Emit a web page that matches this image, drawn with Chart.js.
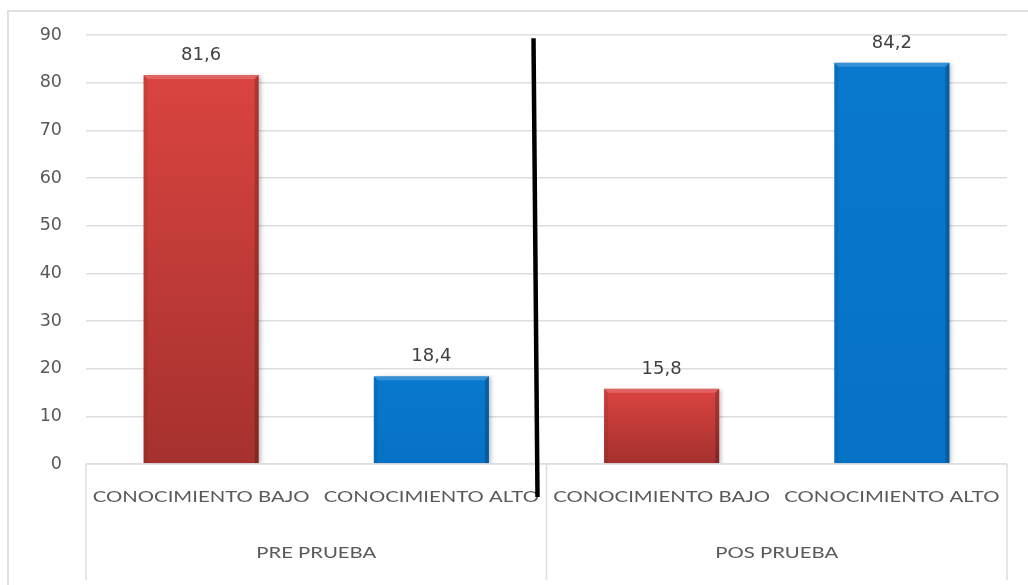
<!DOCTYPE html>
<html>
<head>
<meta charset="utf-8">
<script src="https://cdn.jsdelivr.net/npm/chart.js@4/dist/chart.umd.min.js"></script>
<style>
  html, body { margin: 0; padding: 0; background: #ffffff; }
  #wrap { width: 1028px; height: 585px; position: relative; }
</style>
</head>
<body>
<div id="wrap"><canvas id="chart" width="1028" height="585"></canvas></div>
<script>
// Knowledge level before and after the test
const categories = ['CONOCIMIENTO BAJO', 'CONOCIMIENTO ALTO', 'CONOCIMIENTO BAJO', 'CONOCIMIENTO ALTO'];
const groups = ['PRE PRUEBA', 'POS PRUEBA'];
const values = [81.6, 18.4, 15.8, 84.2];
const yMin = 0;
const yMax = 90;
const yStep = 10;

const GRID = '#dedede';
const TEXT = '#595959';
const LABEL_FONT = 'Lato, "Open Sans", sans-serif';
const NUM_FONT = '"DejaVu Sans", Verdana, sans-serif';
const STRETCH = 1.27;

const palette = {
  BAJO: { top: '#da4440', bottom: '#a5312e' },
  ALTO: { top: '#0979cd', bottom: '#0672c5' }
};
const kindOf = i => (categories[i].indexOf('BAJO') >= 0 ? 'BAJO' : 'ALTO');
const fmt = v => v.toFixed(1).replace('.', ',');

function stretchedText(ctx, text, cx, cy, font, color) {
  ctx.save();
  ctx.font = font;
  ctx.fillStyle = color;
  ctx.textAlign = 'center';
  ctx.textBaseline = 'middle';
  ctx.translate(cx, cy);
  ctx.scale(STRETCH, 1);
  ctx.fillText(text, 0, 0);
  ctx.restore();
}

// frame, category boxes, bevels, value labels and the divider line
const decorations = {
  id: 'decorations',
  beforeDraw(chart) {
    const ctx = chart.ctx;
    ctx.save();
    ctx.fillStyle = '#ffffff';
    ctx.fillRect(0, 0, chart.width, chart.height);
    ctx.strokeStyle = '#e0e0e0';
    ctx.lineWidth = 2;
    ctx.strokeRect(8, 11, chart.width + 40, chart.height + 40);
    ctx.restore();
  },
  beforeDatasetsDraw(chart) {
    const ctx = chart.ctx;
    ctx.save();
    ctx.shadowColor = 'rgba(0,0,0,0.25)';
    ctx.shadowBlur = 4;
    ctx.shadowOffsetX = 2;
    ctx.shadowOffsetY = 1;
  },
  afterDatasetsDraw(chart) {
    const ctx = chart.ctx;
    ctx.restore();
    const meta = chart.getDatasetMeta(0);
    const area = chart.chartArea;
    const xs = chart.scales.x;
    const ys = chart.scales.y;

    // bevel on each bar
    meta.data.forEach((bar) => {
      const l = bar.x - bar.width / 2, r = bar.x + bar.width / 2;
      const t = bar.y, b = bar.base;
      const e = 4;
      ctx.save();
      ctx.fillStyle = 'rgba(255,255,255,0.18)';
      ctx.beginPath();
      ctx.moveTo(l, t); ctx.lineTo(r, t); ctx.lineTo(r - e, t + e); ctx.lineTo(l + e, t + e); ctx.closePath();
      ctx.fill();
      ctx.fillStyle = 'rgba(0,0,0,0.2)';
      ctx.beginPath();
      ctx.moveTo(r, t); ctx.lineTo(r, b); ctx.lineTo(r - e, b); ctx.lineTo(r - e, t + e); ctx.closePath();
      ctx.fill();
      ctx.fillStyle = 'rgba(0,0,0,0.07)';
      ctx.beginPath();
      ctx.moveTo(l, t); ctx.lineTo(l + e, t + e); ctx.lineTo(l + e, b); ctx.lineTo(l, b); ctx.closePath();
      ctx.fill();
      ctx.restore();
    });

    // value labels
    ctx.save();
    ctx.font = '18px ' + NUM_FONT;
    ctx.fillStyle = '#404040';
    ctx.textAlign = 'center';
    ctx.textBaseline = 'alphabetic';
    meta.data.forEach((bar, i) => {
      ctx.fillText(fmt(values[i]), bar.x, bar.y - 15);
    });
    ctx.restore();

    // category / group boxes below the axis
    const bottom = area.bottom;
    const boxBottom = bottom + 116;
    const mid = (xs.getPixelForValue(1) + xs.getPixelForValue(2)) / 2;
    ctx.save();
    ctx.strokeStyle = GRID;
    ctx.lineWidth = 1.5;
    ctx.beginPath();
    ctx.moveTo(area.left, bottom); ctx.lineTo(area.right, bottom);
    [area.left, mid, area.right].forEach(x => {
      ctx.moveTo(x, bottom); ctx.lineTo(x, boxBottom);
    });
    ctx.stroke();
    ctx.restore();

    categories.forEach((c, i) => {
      stretchedText(ctx, c, xs.getPixelForValue(i), bottom + 33, '16px ' + LABEL_FONT, TEXT);
    });
    groups.forEach((g, k) => {
      const cx = (xs.getPixelForValue(2 * k) + xs.getPixelForValue(2 * k + 1)) / 2;
      stretchedText(ctx, g, cx, bottom + 89, '16px ' + LABEL_FONT, TEXT);
    });

    // hand-drawn divider between the two tests
    ctx.save();
    ctx.strokeStyle = '#000000';
    ctx.lineWidth = 4.5;
    ctx.lineCap = 'butt';
    ctx.beginPath();
    ctx.moveTo(mid - 13, ys.getPixelForValue(89.3));
    ctx.lineTo(mid - 9, bottom + 33);
    ctx.stroke();
    ctx.restore();
  }
};

new Chart(document.getElementById('chart'), {
  type: 'bar',
  data: {
    labels: categories,
    datasets: [{
      data: values,
      backgroundColor(c) {
        const p = palette[kindOf(c.dataIndex)];
        const chart = c.chart;
        if (!chart.chartArea || !chart.scales.y) return p.top;
        const ys = chart.scales.y;
        const top = ys.getPixelForValue(values[c.dataIndex]);
        const base = ys.getPixelForValue(0);
        const g = chart.ctx.createLinearGradient(0, top, 0, base);
        g.addColorStop(0, p.top);
        g.addColorStop(1, p.bottom);
        return g;
      },
      borderWidth: 0,
      categoryPercentage: 1,
      barPercentage: 0.5
    }]
  },
  options: {
    responsive: false,
    animation: false,
    devicePixelRatio: 1,
    layout: { padding: { left: 0, top: 35, right: 21, bottom: 0 } },
    plugins: { legend: { display: false }, tooltip: { enabled: false } },
    scales: {
      x: {
        offset: true,
        grid: { display: false },
        border: { display: false },
        ticks: { display: false },
        afterFit(s) { s.height = 121; }
      },
      y: {
        min: yMin,
        max: yMax,
        grid: { color: GRID, lineWidth: 1.5, drawTicks: false },
        border: { display: false },
        ticks: {
          stepSize: yStep,
          padding: 24,
          color: TEXT,
          font: { family: NUM_FONT, size: 17.5 }
        },
        afterFit(s) { s.width = 86; }
      }
    }
  },
  plugins: [decorations]
});
</script>
</body>
</html>
